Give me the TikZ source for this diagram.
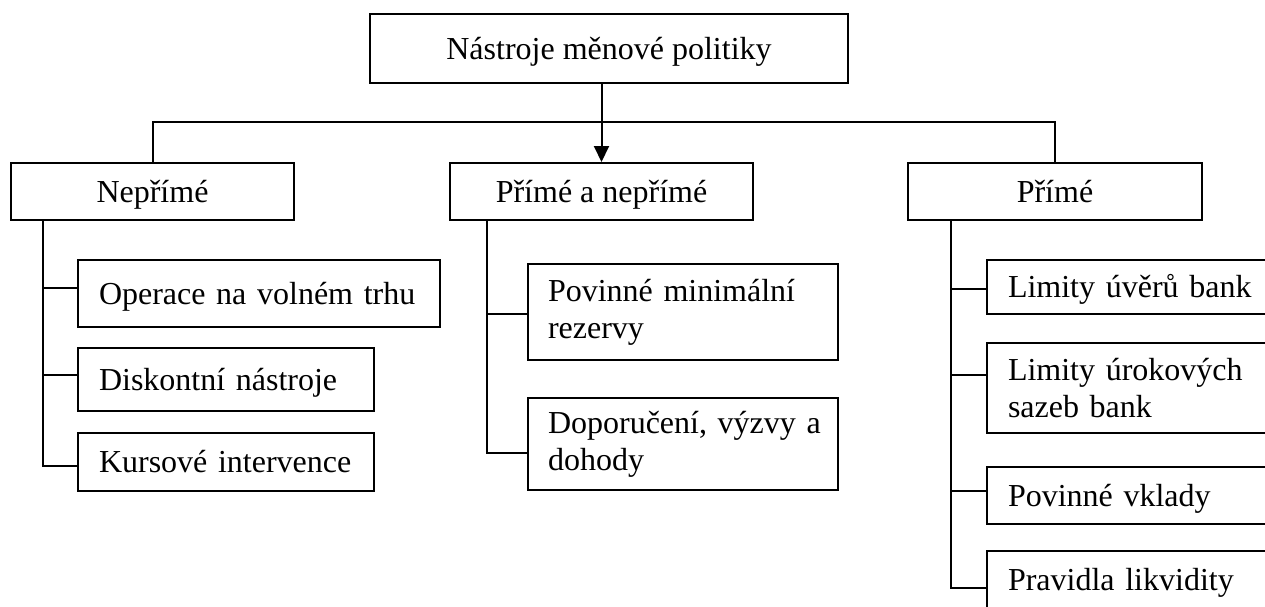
\documentclass[tikz,border=0pt]{standalone}
\usepackage{fontspec}
\setmainfont{Liberation Serif}
\usetikzlibrary{arrows.meta,calc}
\begin{document}
\begin{tikzpicture}[x=0.5pt,y=-0.5pt,
  every node/.style={font=\fontsize{16pt}{18.5pt}\selectfont},
  cbox/.style={draw, line width=1pt, inner sep=0pt, anchor=north west, text height=14pt, text depth=3.4pt},
  lbox/.style={draw, line width=1pt, inner xsep=10.5pt, inner ysep=0pt, align=left, anchor=north west},
  one/.style={text height=14pt, text depth=3.4pt},
  conn/.style={line width=1pt},
  arr/.style={line width=1pt, -{Triangle[length=8pt,width=7.5pt]}}
]
\clip (0,0) rectangle (1265,606);

% top and level 2
\node[cbox, minimum width=239pt, minimum height=34.5pt] (top) at (369,13) {Nástroje měnové politiky};
\node[cbox, minimum width=141.5pt, minimum height=28.5pt] (nep) at (10,162) {Nepřímé};
\node[cbox, minimum width=151.5pt, minimum height=28.5pt] (mid) at (449,162) {Přímé a nepřímé};
\node[cbox, minimum width=147pt, minimum height=28.5pt] (pr) at (907,162) {Přímé};

% left column
\node[lbox, one, text width=160pt, minimum height=33.5pt] (op) at (77,259) {\mbox{Operace na volném trhu}};
\node[lbox, one, text width=127pt, minimum height=31.5pt] (dis) at (77,347) {\mbox{Diskontní nástroje}};
\node[lbox, one, text width=127pt, minimum height=29pt] (kur) at (77,432) {\mbox{Kursové intervence}};

% middle column
\node[lbox, inner xsep=10pt, text width=135pt, minimum height=48pt] (pov) at (527,263) {\mbox{Povinné minimální}\\\mbox{rezervy}};
\node[lbox, inner xsep=10pt, text width=135pt, minimum height=46pt] (dop) at (527,397) {\mbox{Doporučení, výzvy a}\\\mbox{dohody}};

% right column
\node[lbox, one, text width=128.5pt, minimum height=27pt] (lim1) at (986,259) {\mbox{Limity úvěrů bank}};
\node[lbox, text width=128.5pt, minimum height=45pt] (lim2) at (986,342) {\mbox{Limity úrokových}\\\mbox{sazeb bank}};
\node[lbox, one, text width=128.5pt, minimum height=28.5pt] (vkl) at (986,466) {\mbox{Povinné vklady}};
\node[lbox, one, text width=128.5pt, minimum height=29pt] (prav) at (986,550) {\mbox{Pravidla likvidity}};

% helper coordinates
\coordinate (bar) at (0,122);
\coordinate (sL) at (43,0);
\coordinate (sM) at (487,0);
\coordinate (sR) at (951,0);
\coordinate (opc) at ([yshift=2.75pt]op.west);
\coordinate (disc) at ([yshift=2.25pt]dis.west);
\coordinate (kurc) at ([yshift=-2pt]kur.west);
\coordinate (povc) at ([yshift=-1pt]pov.west);
\coordinate (dopc) at ([yshift=-4.5pt]dop.west);
\coordinate (l1c) at ([yshift=-1pt]lim1.west);
\coordinate (l2c) at ([yshift=6.5pt]lim2.west);
\coordinate (vklc) at ([yshift=2.25pt]vkl.west);
\coordinate (pravc) at ([yshift=-4pt]prav.west);

% connectors
\draw[arr] (mid.north |- top.south) -- (mid.north);
\draw[conn] (nep.north) |- (pr.north |- bar) -- (pr.north);

\draw[conn] (nep.south -| sL) |- (kurc);
\draw[conn] (sL |- opc) -- (opc);
\draw[conn] (sL |- disc) -- (disc);

\draw[conn] (mid.south -| sM) |- (dopc);
\draw[conn] (sM |- povc) -- (povc);

\draw[conn] (pr.south -| sR) |- (pravc);
\draw[conn] (sR |- l1c) -- (l1c);
\draw[conn] (sR |- l2c) -- (l2c);
\draw[conn] (sR |- vklc) -- (vklc);
\end{tikzpicture}
\end{document}
